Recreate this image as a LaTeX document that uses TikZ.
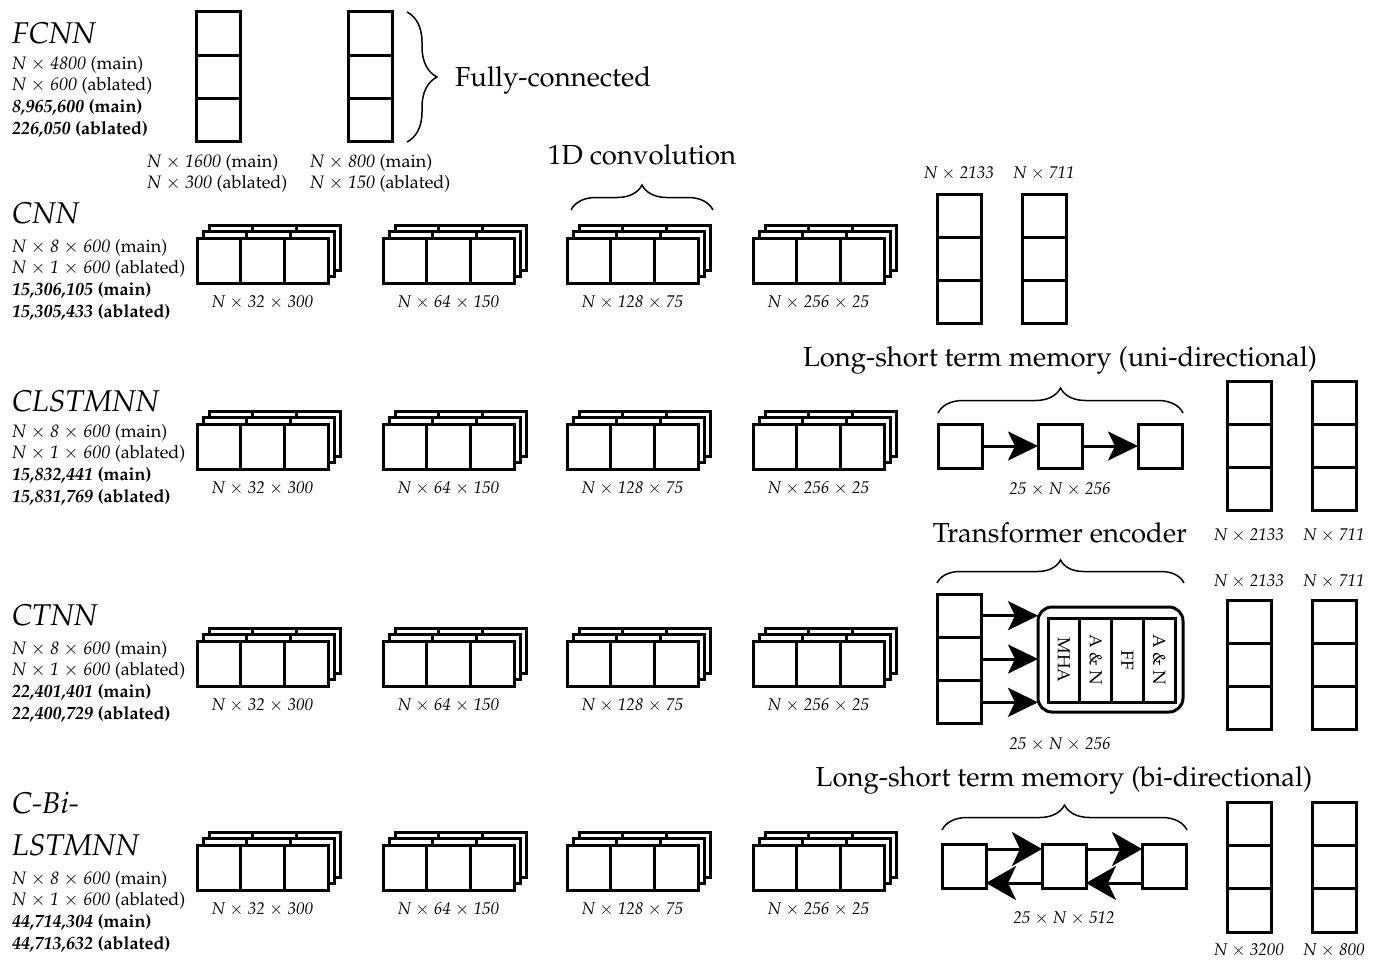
\documentclass[tikz,border=0pt]{standalone}
\usepackage[T1]{fontenc}
\usepackage{mathpazo}
\usepackage{graphicx}
\usetikzlibrary{
    arrows.meta,
    positioning,
    decorations.pathreplacing
}

\newcommand{\tms}{\ensuremath{\times}}

% stack of three feature maps, front top-left corner at (#2,#3)
\newcommand{\convstack}[4]{%
    \foreach \k in {2,1} {
        \draw[layer, fill=white] (#2+6*\k, #3-6.5*\k) rectangle ++(131,45);
        \foreach \j in {1,2}
            \draw[layer] (#2+6*\k+43.67*\j, #3-6.5*\k) -- ++(0,45);
    }
    \foreach \j in {1,2,3}
        \node[cell, minimum width=43.67, minimum height=45] (#1-\j) at (#2+43.67*\j-21.83, #3+22.5) {};
    \node[dim] (#1-lab) at (#2+65.5, #3+64) {#4};
}

% fully-connected column, top-left corner at (#2,#3)
\newcommand{\fccol}[3]{%
    \foreach \j in {1,2,3}
        \node[cell, minimum width=44, minimum height=43.33] (#1-\j) at (#2+22, #3+43.33*\j-21.67) {};
}

\begin{document}
\begin{tikzpicture}[
        x=1pt, y=-1pt,
        cell/.style={draw, line width=3pt, fill=white, inner sep=0pt, outer sep=0pt},
        layer/.style={line width=3pt},
        title/.style={font=\fontsize{30}{42}\selectfont\itshape, anchor=base west, inner sep=0pt},
        info/.style={font=\fontsize{18}{21.7}\selectfont, align=left, anchor=north west, inner sep=0pt},
        dim/.style={font=\fontsize{17}{20}\selectfont\itshape, inner sep=0pt},
        head/.style={font=\fontsize{27.5}{32}\selectfont, inner sep=0pt},
        brace/.style={decorate, decoration={brace, amplitude=25pt}, line width=1.5pt},
        arr/.style={-{Stealth[length=30pt, width=29pt, inset=7pt]}, line width=3pt},
        arrbi/.style={-{Stealth[length=30pt, width=34pt, inset=8pt]}, line width=3pt},
    ]
    \useasboundingbox (0,0) rectangle (1381,959);

    % FCNN
    \node[title] (fcnn) at (12,43) {FCNN};
    \node[info] (fcnn-info) at (12,56) {\textit{N \tms{} 4800} (main)\\
        \textit{N \tms{} 600} (ablated)\\
        \textbf{\textit{8,965,600} (main)}\\
        \textbf{\textit{226,050} (ablated)}};
    \fccol{fa}{196}{12}
    \fccol{fb}{348}{12}
    \node[info] (fa-lab) at (147,154) {\textit{N \tms{} 1600} (main)\\ \textit{N \tms{} 300} (ablated)};
    \node[info] (fb-lab) at (310,154) {\textit{N \tms{} 800} (main)\\ \textit{N \tms{} 150} (ablated)};
    \draw[brace, decoration={amplitude=30pt}] (407,12) -- (407,142);
    \node[head, anchor=west] (fc-head) at (455,80) {Fully-connected};

    % CNN
    \node[title] (cnn) at (12,223) {CNN};
    \node[info] (cnn-info) at (12,239) {\textit{N \tms{} 8 \tms{} 600} (main)\\
        \textit{N \tms{} 1 \tms{} 600} (ablated)\\
        \textbf{\textit{15,306,105} (main)}\\
        \textbf{\textit{15,305,433} (ablated)}};
    \convstack{cnn1}{197}{238}{N \tms{} 32 \tms{} 300}
    \convstack{cnn2}{383}{238}{N \tms{} 64 \tms{} 150}
    \convstack{cnn3}{567}{238}{N \tms{} 128 \tms{} 75}
    \convstack{cnn4}{753}{238}{N \tms{} 256 \tms{} 25}
    \draw[brace] (571,210) -- (713,210);
    \node[head] (conv-head) at (642,155) {1D convolution};
    \fccol{ca}{937}{194}
    \fccol{cb}{1022}{194}
    \node[dim] at (959,173) {N \tms{} 2133};
    \node[dim] at (1044,173) {N \tms{} 711};

    % CLSTMNN
    \node[title] (clstm) at (12,411) {CLSTMNN};
    \node[info] (clstm-info) at (12,424) {\textit{N \tms{} 8 \tms{} 600} (main)\\
        \textit{N \tms{} 1 \tms{} 600} (ablated)\\
        \textbf{\textit{15,832,441} (main)}\\
        \textbf{\textit{15,831,769} (ablated)}};
    \convstack{cl1}{197}{424}{N \tms{} 32 \tms{} 300}
    \convstack{cl2}{383}{424}{N \tms{} 64 \tms{} 150}
    \convstack{cl3}{567}{424}{N \tms{} 128 \tms{} 75}
    \convstack{cl4}{753}{424}{N \tms{} 256 \tms{} 25}
    \foreach \i/\x in {1/960, 2/1060, 3/1160}
        \node[cell, minimum size=44] (u\i) at (\x,446) {};
    \draw[arr] (u1.east) -- (u2.west);
    \draw[arr] (u2.east) -- (u3.west);
    \node[dim] at (1060,489) {25 \tms{} N \tms{} 256};
    \draw[brace] (938,413) -- (1183,413);
    \node[head] (uni-head) at (1060,360) {Long-short term memory (uni-directional)};
    \fccol{la}{1227}{381}
    \fccol{lb}{1312}{381}
    \node[dim] at (1249,535) {N \tms{} 2133};
    \node[dim] at (1334,535) {N \tms{} 711};

    % CTNN
    \node[title] (ctnn) at (12,625) {CTNN};
    \node[info] (ctnn-info) at (12,641) {\textit{N \tms{} 8 \tms{} 600} (main)\\
        \textit{N \tms{} 1 \tms{} 600} (ablated)\\
        \textbf{\textit{22,401,401} (main)}\\
        \textbf{\textit{22,400,729} (ablated)}};
    \convstack{ct1}{197}{641}{N \tms{} 32 \tms{} 300}
    \convstack{ct2}{383}{641}{N \tms{} 64 \tms{} 150}
    \convstack{ct3}{567}{641}{N \tms{} 128 \tms{} 75}
    \convstack{ct4}{753}{641}{N \tms{} 256 \tms{} 25}
    \fccol{tc}{937}{594}
    \node[draw, line width=3pt, rounded corners=14pt, minimum width=145, minimum height=105,
        inner sep=0pt, outer sep=0pt] (enc) at (1110.5,659.5) {};
    \foreach \name/\txt [count=\i] in {mha/MHA, an1/A \& N, ff/FF, an2/A \& N}
        \node[cell, minimum width=31.75, minimum height=84, font=\fontsize{17.5}{20}\selectfont]
            (\name) at (1048+31.75*\i-15.875,660) {\rotatebox{-90}{\txt}};
    \foreach \j in {1,2,3}
        \draw[arr] (tc-\j.east) -- (tc-\j.east -| enc.west);
    \node[dim] at (1060,744) {25 \tms{} N \tms{} 256};
    \draw[brace, decoration={amplitude=23pt}] (937,583) -- (1184,583);
    \node[head] (enc-head) at (1060,533) {Transformer encoder};
    \fccol{ta}{1227}{600}
    \fccol{tb}{1312}{600}
    \node[dim] at (1249,581) {N \tms{} 2133};
    \node[dim] at (1334,581) {N \tms{} 711};

    % C-Bi-LSTMNN
    \node[title, anchor=north west, align=left] (cbi) at (12,792) {C-Bi-\\LSTMNN};
    \node[info] (cbi-info) at (12,871) {\textit{N \tms{} 8 \tms{} 600} (main)\\
        \textit{N \tms{} 1 \tms{} 600} (ablated)\\
        \textbf{\textit{44,714,304} (main)}\\
        \textbf{\textit{44,713,632} (ablated)}};
    \convstack{cb1}{197}{845}{N \tms{} 32 \tms{} 300}
    \convstack{cb2}{383}{845}{N \tms{} 64 \tms{} 150}
    \convstack{cb3}{567}{845}{N \tms{} 128 \tms{} 75}
    \convstack{cb4}{753}{845}{N \tms{} 256 \tms{} 25}
    \foreach \i/\x in {1/964, 2/1064, 3/1164}
        \node[cell, minimum size=44] (b\i) at (\x,866) {};
    \draw[arrbi] ([yshift=-5pt]b1.north east) -- ([yshift=-5pt]b2.north west);
    \draw[arrbi] ([yshift=-5pt]b2.north east) -- ([yshift=-5pt]b3.north west);
    \draw[arrbi] ([yshift=5pt]b3.south west) -- ([yshift=5pt]b2.south east);
    \draw[arrbi] ([yshift=5pt]b2.south west) -- ([yshift=5pt]b1.south east);
    \node[dim] at (1064,918) {25 \tms{} N \tms{} 512};
    \draw[brace] (942,830) -- (1187,830);
    \node[head] (bi-head) at (1064,780) {Long-short term memory (bi-directional)};
    \fccol{ba}{1227}{802}
    \fccol{bb}{1312}{802}
    \node[dim] at (1249,950) {N \tms{} 3200};
    \node[dim] at (1334,950) {N \tms{} 800};
\end{tikzpicture}
\end{document}
